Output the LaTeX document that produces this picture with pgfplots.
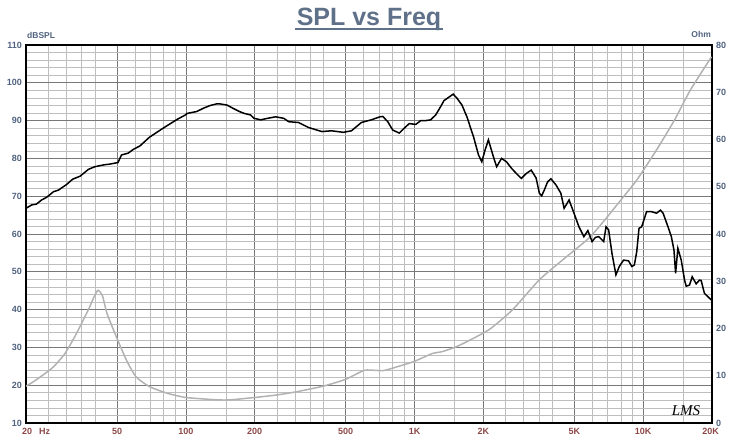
\documentclass[border=0pt]{standalone}
\usepackage{pgfplots}
\pgfplotsset{compat=1.18}
\usepackage{fontspec}
\setmainfont{Liberation Sans}
\newfontfamily\logofont{Liberation Serif}
\definecolor{titleblue}{RGB}{95,112,137}
\definecolor{ylab}{RGB}{80,98,128}
\definecolor{xlab}{RGB}{140,72,72}
\definecolor{gridmaj}{RGB}{120,120,120}
\definecolor{gridmin}{RGB}{190,190,190}
\definecolor{impgray}{RGB}{178,178,178}
\begin{document}
\begin{tikzpicture}[x=1pt,y=1pt]
\useasboundingbox (0,0) rectangle (736,447);
% grid / frame axis (dB scale)
\begin{axis}[
  at={(26pt,24pt)}, anchor=south west,
  scale only axis, width=686pt, height=378pt,
  xmode=log, xmin=20, xmax=20000,
  major tick length=0pt, minor tick length=0pt,
  /pgf/number format/assume math mode=true,
  ymin=10, ymax=110,
  ytick={10,20,...,110}, minor ytick={12,14,...,108},
  xtick={20,50,100,200,500,1000,2000,5000,10000,20000},
  xticklabels={\makebox[0pt][l]{\hspace{-4pt}20\hspace{7pt}Hz},50,100,200,500,1K,2K,5K,10K,\makebox[0pt]{\hspace{-3pt}20K}},
  minor xtick={25,30,35,40,60,70,80,90,150,250,300,350,400,600,700,800,900,1500,2500,3000,3500,4000,6000,7000,8000,9000,15000},
  ytick pos=left, xtick pos=bottom,
  grid=both,
  major grid style={gridmaj, line width=0.6pt},
  minor grid style={gridmin, line width=0.6pt},
  axis line style={black, line width=1.3pt},
  yticklabel style={font=\bfseries\fontsize{9}{10}\selectfont, text=ylab, xshift=-0.5pt},
  xticklabel style={font=\bfseries\fontsize{9}{10}\selectfont, text=xlab, yshift=-1.5pt},
]
\addplot[draw=none] coordinates {(20,10) (20000,110)};
\end{axis}
% impedance axis (Ohm)
\begin{axis}[
  at={(26pt,24pt)}, anchor=south west,
  scale only axis, width=686pt, height=378pt,
  xmode=log, xmin=20, xmax=20000,
  major tick length=0pt, minor tick length=0pt,
  /pgf/number format/assume math mode=true,
  ymin=0, ymax=80,
  axis y line*=right, axis x line=none,
  ytick={0,10,...,80},
  axis line style={black, line width=1.3pt},
  yticklabel style={font=\bfseries\fontsize{9}{10}\selectfont, text=ylab, xshift=0.5pt},
]
\addplot[impgray, line width=1.5pt, smooth, tension=0.35] coordinates {
(20,7.8) (21.5,8.7) (23.8,10.2) (26.4,11.9) (29.6,14.7) (32.7,18.3) (35.6,21.8)
(38.0,24.6) (39.6,26.6) (41.3,28.1) (43.2,26.9) (45.2,23.2)
(49.6,18.3) (55.0,13.3) (60.5,9.8) (69.3,7.7) (82.9,6.3) (99.9,5.4) (136.9,4.9)
(156.7,4.9) (200,5.4) (247,5.9) (304,6.6) (399,7.8) (497,9.2) (598,11.1) (640,11.2)
(733,11.1) (840,11.9) (993,13.0) (1195,14.7) (1320,15.1) (1533,16.2) (1873,18.3)
(2154,20.0) (2675,23.9) (3515,30.3) (4440,34.5) (5780,39.1) (6800,43.0) (7990,47.2)
(9370,51.4) (11440,57.8) (13700,64.1) (16100,70.5) (19900,77.5)
};
\end{axis}
% SPL axis (dB)
\begin{axis}[
  at={(26pt,24pt)}, anchor=south west,
  scale only axis, width=686pt, height=378pt,
  xmode=log, xmin=20, xmax=20000,
  ymin=10, ymax=110, hide axis]
\addplot[black, line width=1.5pt] coordinates {
(20,66.8) (21.2,67.7) (22.2,67.9) (23.4,69.0) (24.6,69.7) (26.4,71.2) (27.7,71.6)
(30.1,73.1) (32.0,74.5) (34.5,75.3) (37.5,77.1) (40.0,77.8) (43.9,78.3) (46.6,78.5)
(50.5,78.9) (52.3,80.9) (56,81.4) (59,82.4) (63,83.3) (69.3,85.6) (79.6,88.0)
(91.5,90.3) (99.6,91.5) (101.3,91.9) (111.6,92.4) (119.6,93.3) (127.8,94.0)
(135.9,94.4) (141.6,94.4) (151.6,94.1) (160.2,93.3) (171.5,92.4) (180,91.9)
(191.8,91.5) (198.8,90.6) (212.7,90.2) (227.5,90.6) (247.1,91.0) (268,90.6)
(282,89.7) (311,89.5) (343,88.2) (393,87.1) (434,87.3) (488,86.9) (530,87.3)
(557,88.4) (586,89.5) (647,90.2) (706,91.0) (727,91.1) (764,89.7) (803,87.5)
(858,86.7) (902,88.0) (948,89.2) (1013,89.0) (1065,90.0) (1119,90.0) (1176,90.2)
(1238,91.5) (1301,93.7) (1346,95.3) (1414,96.2) (1476,97.0) (1535,95.9) (1613,94.1)
(1695,91.0) (1812,85.7) (1905,80.9) (1969,79.1) (2035,82.2) (2104,84.9) (2211,80.5)
(2286,77.8) (2402,80.0) (2525,79.1) (2654,77.4) (2789,76.0) (2931,74.7) (3081,76.0)
(3238,76.9) (3403,74.8) (3515,70.8) (3598,70.1) (3694,71.6) (3820,73.8) (3951,74.6)
(4153,73.0) (4364,70.8) (4511,66.8) (4741,69.0) (4983,65.5) (5237,61.9) (5504,59.3)
(5728,60.9) (5977,58.0) (6181,59.1) (6393,59.3) (6719,58.0) (6880,61.9) (7062,61.1)
(7303,54.9) (7600,49.2) (7862,51.4) (8206,53.1) (8625,52.9) (8922,51.4) (9150,51.8)
(9370,55.3) (9590,61.5) (9850,61.9) (10350,65.9) (10880,65.9) (11440,65.5)
(11900,66.3) (12220,65.5) (12840,61.9) (13280,59.3) (13630,55.8) (13860,49.6)
(14180,56.2) (14670,53.1) (15170,47.8) (15420,46.2) (15950,46.5) (16380,48.7)
(17050,46.8) (17620,47.8) (17930,47.7) (18530,44.3) (19900,42.5)
};
\end{axis}
% texts
\node[anchor=base west, inner sep=0pt, text=ylab, font=\bfseries\fontsize{8.5}{10}\selectfont] at (27,408) {dBSPL};
\node[anchor=base east, inner sep=0pt, text=ylab, font=\bfseries\fontsize{8.5}{10}\selectfont] at (711,409) {Ohm};
\node[anchor=base, inner sep=0pt, text=titleblue, font=\bfseries\fontsize{25}{30}\selectfont] (title) at (369,421) {SPL vs Freq};
\draw[titleblue, line width=1.8pt] ([yshift=-3pt,xshift=-2pt]title.base west) -- ([yshift=-3pt,xshift=2pt]title.base east);
\node[anchor=base, inner sep=0pt, font=\logofont\itshape\fontsize{15}{17}\selectfont] at (686,31) {LMS};
\end{tikzpicture}
\end{document}
